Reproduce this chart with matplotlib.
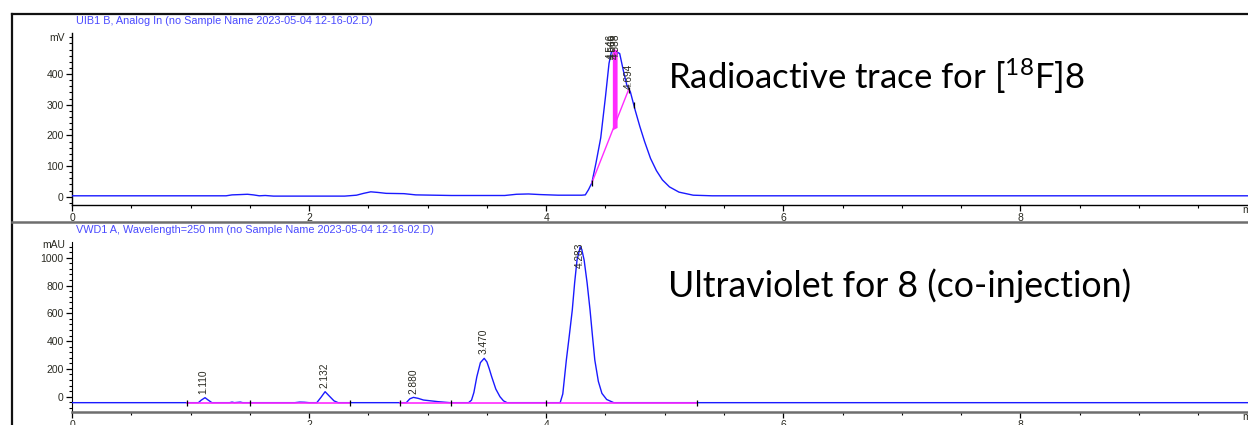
import matplotlib
matplotlib.use("Agg")
import matplotlib.pyplot as plt
from matplotlib.lines import Line2D
from matplotlib.ticker import MultipleLocator

plt.rcParams['font.family'] = ['Liberation Sans', 'DejaVu Sans']
plt.rcParams['mathtext.fontset'] = 'custom'
plt.rcParams['mathtext.rm'] = 'Lato'

# radioactive trace (UIB1 B), time in min, signal in mV
rad_t = [0.0, 1.30, 1.35, 1.42, 1.48, 1.53, 1.58, 1.63, 1.70, 2.30, 2.40, 2.46,
         2.52, 2.58, 2.65, 2.80, 2.90, 3.20, 3.65, 3.75, 3.85, 3.95, 4.10, 4.30,
         4.33, 4.357, 4.385, 4.42, 4.46, 4.50, 4.53, 4.55, 4.58, 4.62, 4.65, 4.68,
         4.71, 4.75, 4.79, 4.83, 4.88, 4.93, 4.98, 5.04, 5.12, 5.24, 5.40, 9.92]
rad_mv = [3, 3, 6, 7, 8, 6, 3, 4, 2, 2, 5, 11,
          16, 14, 11, 10, 6, 4, 4, 8, 9, 7, 5, 5,
          6, 23, 45, 110, 192, 326, 435, 472, 475, 467, 413, 364,
          342, 283, 229, 180, 125, 85, 55, 32, 15, 5, 3, 3]

rad_labels = ['4.546', '4.566', '4.588']
rad_label_t = [4.546, 4.566, 4.588]
rad_label2 = '4.694'
rad_label2_t = 4.694
rad_label2_y = 352

# integration baseline and drop line on the radio peak
rad_base_t = [4.385, 4.695]
rad_base_mv = [45, 349]
rad_drop_t = [4.558, 4.598]
rad_drop_lo = [218, 226]
rad_drop_hi = [482, 480]
rad_event_t = [4.385, 4.695, 4.74]
rad_event_mv = [45, 349, 300]

# UV trace (VWD1 A, 250 nm), signal in mAU
uv_t = [0.0, 1.066, 1.09, 1.122, 1.15, 1.18, 1.33, 1.35, 1.37, 1.42, 1.44,
        1.46, 1.88, 1.92, 1.96, 2.00, 2.065, 2.10, 2.135, 2.17, 2.21, 2.245,
        2.82, 2.85, 2.88, 2.92, 2.965, 3.09, 3.19, 3.345, 3.37, 3.39, 3.415,
        3.445, 3.477, 3.50, 3.52, 3.54, 3.575, 3.61, 3.64, 3.67, 4.118, 4.14,
        4.17, 4.195, 4.22, 4.24, 4.26, 4.287, 4.30, 4.32, 4.345, 4.37, 4.39,
        4.41, 4.44, 4.47, 4.51, 4.57, 9.92]
uv_mau = [-43, -43, -25, -7, -25, -43, -43, -39, -43, -39, -43,
          -43, -43, -39, -40, -43, -43, -5, 36, 5, -30, -43,
          -43, -15, -5, -12, -24, -36, -43, -43, -25, 30, 144,
          245, 276, 250, 200, 144, 55, 0, -30, -43, -43, 20,
          264, 440, 623, 820, 983, 1079, 1060, 983, 820, 623, 440,
          264, 110, 24, -20, -43, -43]

uv_peaks = ['1.110', '2.132', '2.880', '3.470']
uv_peak_t = [1.110, 2.132, 2.880, 3.470]
uv_peak_y = [-5, 38, -3, 280]
uv_main_label = '4.283'
uv_main_t = 4.283

uv_base_segments = [(0.968, 2.346), (2.77, 5.27)]
uv_base_level = -43
uv_event_t = [0.968, 1.50, 2.346, 2.77, 3.20, 4.0, 5.27]

blue = '#1a1aff'
magenta = '#ff2bff'
title_blue = '#4a4aff'
tick_col = '#2a2a22'

fig = plt.figure(figsize=(12.48, 4.25), dpi=100)

ax1 = fig.add_axes([72 / 1248, 1 - 205 / 425, 1 - 72 / 1248, 172 / 425])
ax2 = fig.add_axes([72 / 1248, 1 - 411.7 / 425, 1 - 72 / 1248, 169.4 / 425])

for ax in (ax1, ax2):
    ax.set_xlim(0, 9.92)
    ax.spines['top'].set_visible(False)
    ax.spines['right'].set_visible(False)
    ax.xaxis.set_major_locator(MultipleLocator(2))
    ax.xaxis.set_minor_locator(MultipleLocator(0.5))
    ax.tick_params(axis='both', which='major', labelsize=7.5, colors='black',
                   labelcolor=tick_col, length=4, width=0.9, pad=2)
    ax.tick_params(axis='both', which='minor', length=2.5, width=0.8, colors='black')
    ax.patch.set_alpha(0)

# top panel
ax1.set_ylim(-27, 534)
ax1.set_yticks([0, 100, 200, 300, 400])
ax1.yaxis.set_minor_locator(MultipleLocator(20))
ax1.plot(rad_t, rad_mv, color=blue, lw=1.0, zorder=3)
ax1.plot(rad_base_t, rad_base_mv, color=magenta, lw=1.0, zorder=4)
ax1.fill_between(rad_drop_t, rad_drop_lo, rad_drop_hi, color=magenta, lw=0, zorder=4)
ax1.plot(rad_event_t, rad_event_mv, ls='none', marker='|', ms=4, mew=0.9,
         color='black', zorder=5)
for lab, t in zip(rad_labels, rad_label_t):
    ax1.text(t, 533, lab, rotation=90, ha='center', va='top', fontsize=7.3,
             color=tick_col, zorder=6)
ax1.text(rad_label2_t, rad_label2_y, rad_label2, rotation=90, ha='center',
         va='bottom', fontsize=7.3, color=tick_col, zorder=6)
ax1.text(9.87, -27, 'min', ha='left', va='top', fontsize=7.5, color=tick_col,
         clip_on=False)
for s in ('left', 'bottom'):
    ax1.spines[s].set_color('black')
    ax1.spines[s].set_linewidth(1.0)

# bottom panel
ax2.set_ylim(-108, 1111)
ax2.set_yticks([0, 200, 400, 600, 800, 1000])
ax2.yaxis.set_minor_locator(MultipleLocator(40))
ax2.plot(uv_t, uv_mau, color=blue, lw=1.0, zorder=3)
for a, b in uv_base_segments:
    ax2.plot([a, b], [uv_base_level, uv_base_level], color=magenta, lw=1.2, zorder=4)
ax2.plot(uv_event_t, [uv_base_level] * len(uv_event_t), ls='none', marker='|',
         ms=5, mew=0.9, color='black', zorder=5)
for lab, t, y in zip(uv_peaks, uv_peak_t, uv_peak_y):
    ax2.text(t, y + 25, lab, rotation=90, ha='center', va='bottom', fontsize=7.3,
             color=tick_col, zorder=6)
ax2.text(uv_main_t, 1110, uv_main_label, rotation=90, ha='center', va='top',
         fontsize=7.3, color=tick_col, zorder=6)
ax2.text(9.87, -108, 'min', ha='left', va='top', fontsize=7.5, color=tick_col,
         clip_on=False)
ax2.spines['left'].set_color('black')
ax2.spines['bottom'].set_color('#6e6e6e')
ax2.spines['bottom'].set_linewidth(1.8)

# unit labels and panel titles
fig.text(65 / 1248, 1 - 38 / 425, 'mV', ha='right', va='center', fontsize=7.5,
         color=tick_col)
fig.text(65 / 1248, 1 - 245 / 425, 'mAU', ha='right', va='center', fontsize=7.5,
         color=tick_col)
fig.text(76 / 1248, 1 - 21 / 425,
         'UIB1 B, Analog In (no Sample Name 2023-05-04 12-16-02.D)',
         ha='left', va='center', fontsize=7.8, color=title_blue)
fig.text(76 / 1248, 1 - 230 / 425,
         'VWD1 A, Wavelength=250 nm (no Sample Name 2023-05-04 12-16-02.D)',
         ha='left', va='center', fontsize=7.8, color=title_blue)

# frame lines
fig.add_artist(Line2D([12 / 1248, 1], [1 - 14 / 425, 1 - 14 / 425], color='#111111', lw=1.6))
fig.add_artist(Line2D([12 / 1248, 12 / 1248], [0, 1 - 14 / 425], color='#111111', lw=1.6))
fig.add_artist(Line2D([12 / 1248, 1], [1 - 222 / 425, 1 - 222 / 425], color='#6e6e6e', lw=1.8))

# slide annotations
fig.text(668 / 1248, 1 - 89 / 425, r'Radioactive trace for [$\mathregular{^{18}}$F]8',
         family='Lato', fontsize=25, ha='left', va='baseline', color='black')
fig.text(668 / 1248, 1 - 297 / 425, 'Ultraviolet for 8 (co-injection)',
         family='Lato', fontsize=25.7, ha='left', va='baseline', color='black')

fig.savefig('out.png', dpi=100)
